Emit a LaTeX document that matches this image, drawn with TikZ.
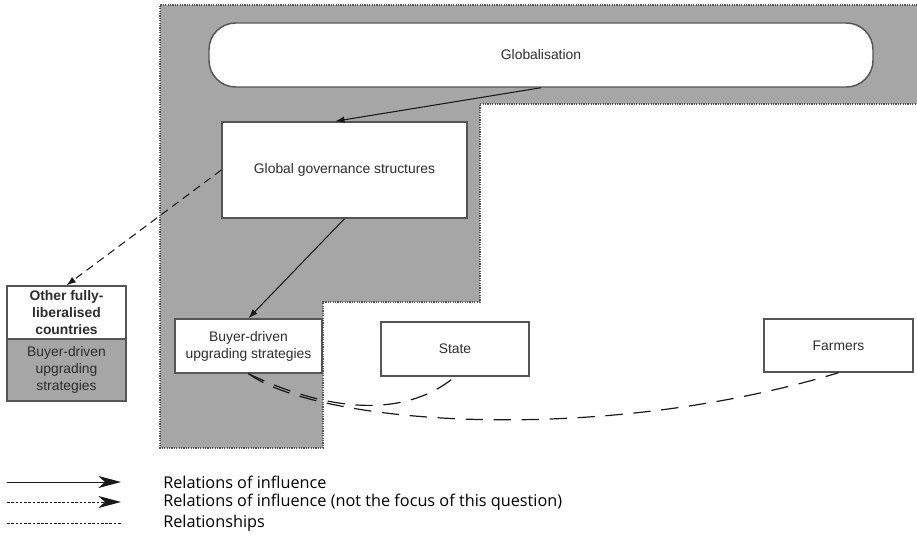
\documentclass[tikz,border=0pt]{standalone}
\usepackage{fontspec}
\setmainfont{Liberation Sans}
\newfontfamily\legendfont{Open Sans}
\usetikzlibrary{arrows.meta}
\definecolor{regiongray}{RGB}{166,166,166}
\definecolor{edgegray}{RGB}{85,85,85}
\definecolor{textgray}{RGB}{45,45,45}
\definecolor{linegray}{RGB}{25,25,25}
\newcommand{\boxfont}{\fontsize{10.4}{12.75}\selectfont}
\begin{document}
\begin{tikzpicture}[x=0.75pt,y=-0.75pt,
  box/.style={draw=edgegray, line width=1.1pt, fill=white, inner sep=0pt,
    text=textgray, font=\boxfont, align=center},
  shadedbox/.style={box, fill=regiongray},
  regionedge/.style={draw=edgegray, line width=0.8pt, dash pattern=on 0.9pt off 0.9pt},
  influence/.style={draw=linegray, line width=0.8pt, -{Latex[length=7pt,width=5pt]}},
  sideinfluence/.style={influence, dash pattern=on 6pt off 4pt},
  relation/.style={draw=linegray, line width=0.9pt, dash pattern=on 13pt off 8pt},
  legendline/.style={draw=linegray, line width=0.7pt},
  legendtip/.style={-{Stealth[length=17pt,width=9pt,inset=5pt]}},
  legendtext/.style={anchor=west, inner sep=0pt, text=black,
    font=\legendfont\fontsize{12.2}{14}\selectfont}]
\useasboundingbox (0,0) rectangle (917,549);

% shaded region of the global governance context
\fill[regiongray] (160,5) -- (920,5) -- (920,104) -- (480,104) -- (480,302)
  -- (323,302) -- (323,448) -- (160,448) -- cycle;
\draw[regionedge] (920,5) -- (160,5) -- (160,448) -- (323,448) -- (323,302)
  -- (480,302) -- (480,104) -- (920,104);

% boxes (width and height in px of the drawing grid: 1px = 0.75pt)
\node[box, rounded corners=20pt, minimum width=498pt, minimum height=48pt]
  (glob) at (541,55) {Globalisation};
\node[box, minimum width=183.75pt, minimum height=72pt]
  (gov) at (344.5,170) {Global governance structures};
\node[box, minimum width=110.25pt, minimum height=40.5pt]
  (buyer) at (248.5,346) {Buyer-driven\\upgrading strategies};
\node[box, minimum width=111pt, minimum height=40.5pt]
  (state) at (455,349) {State};
\node[box, minimum width=111.75pt, minimum height=39.75pt]
  (farmers) at (838.5,345.5) {Farmers};
\node[box, minimum width=89.25pt, minimum height=39.75pt, font=\boxfont\bfseries]
  (othertop) at (66.5,312.5) {Other fully-\\liberalised\\countries};
\node[shadedbox, minimum width=89.25pt, minimum height=46.5pt]
  (otherbot) at (66.5,370) {Buyer-driven\\upgrading\\strategies};

% relations of influence
\draw[influence] (glob.south) -- ([xshift=-7pt]gov.north);
\draw[influence] (gov.south) -- (buyer.north);
\draw[sideinfluence] (gov.west) -- (othertop.north);

% relationships
\draw[relation] (buyer.south) .. controls (320,408) and (400,422) .. (state.south);
\draw[relation] (buyer.south) .. controls (320,425) and (600,445) .. (farmers.south);

% legend
\coordinate (l1a) at (7,482);  \coordinate (l1b) at (121,482);
\coordinate (l2a) at (7,502);  \coordinate (l2b) at (121,502);
\coordinate (l3a) at (7,523);  \coordinate (l3b) at (121,523);
\draw[legendline, legendtip] (l1a) -- (l1b);
\draw[legendline, legendtip, dash pattern=on 2pt off 1.2pt] (l2a) -- (l2b);
\draw[legendline, line width=0.6pt, dash pattern=on 2pt off 1.2pt] (l3a) -- (l3b);
\node[legendtext] (t1) at (163,482) {Relations of influence};
\node[legendtext] (t2) at (163,502) {Relations of influence (not the focus of this question)};
\node[legendtext] (t3) at (163,523) {Relationships};
\end{tikzpicture}
\end{document}
